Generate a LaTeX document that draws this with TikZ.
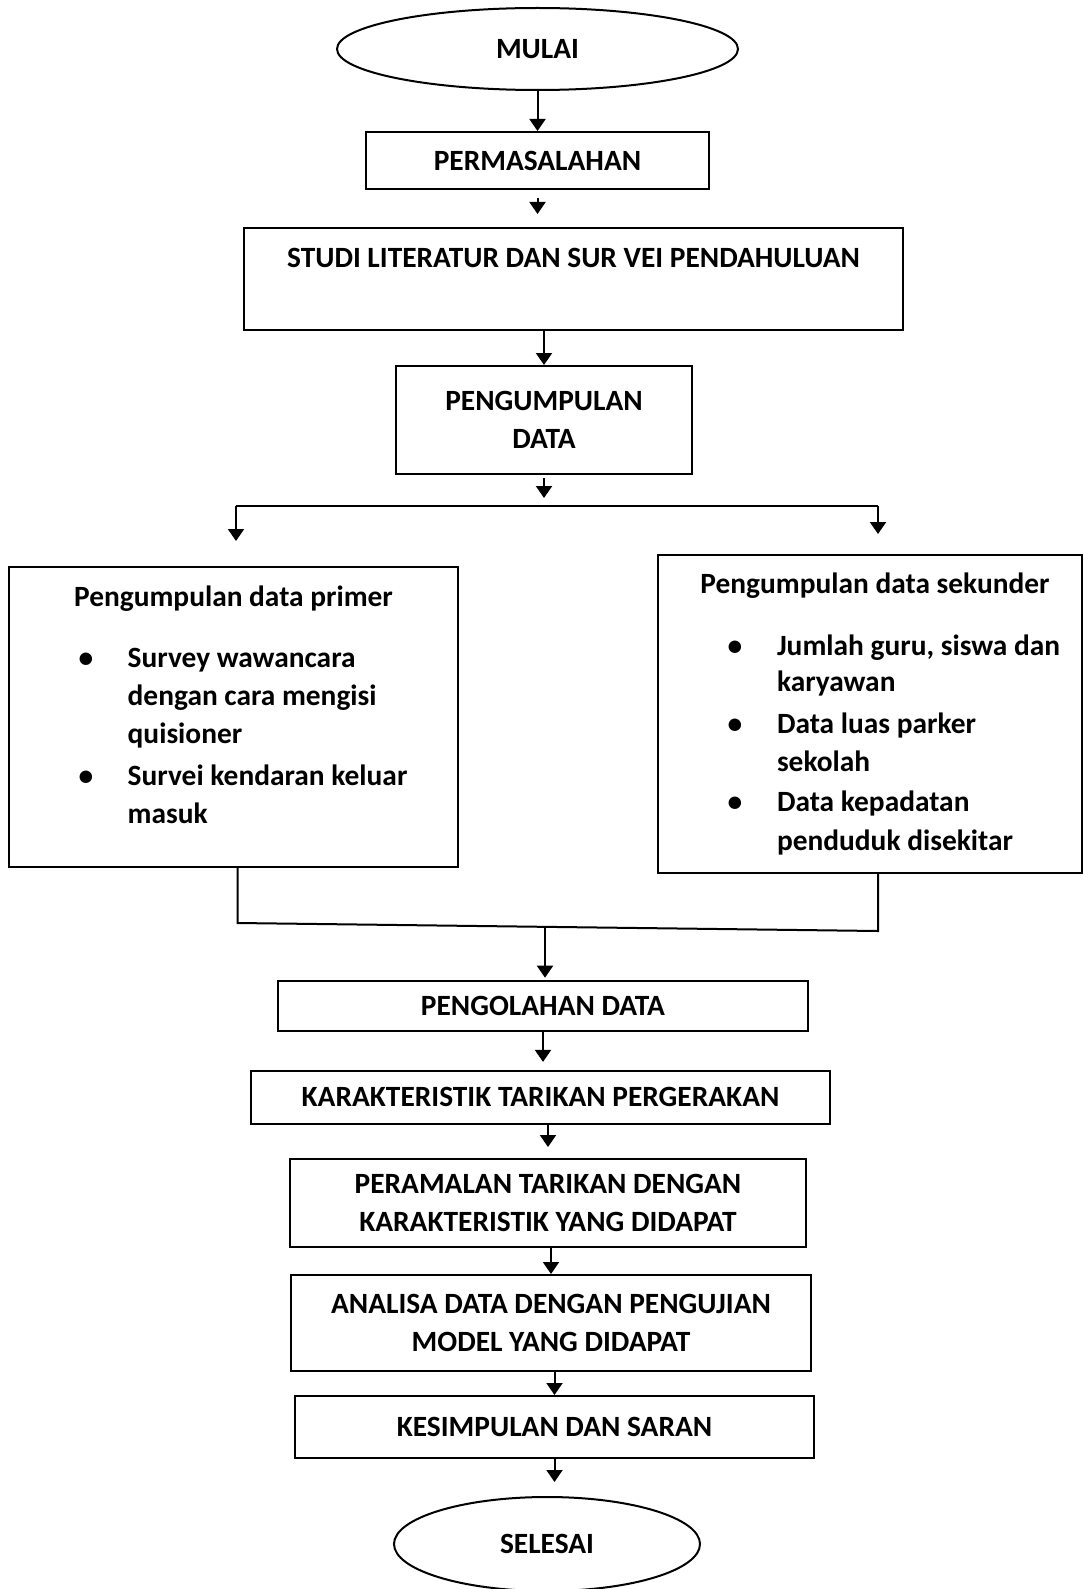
\documentclass[tikz,border=0pt]{standalone}
\usepackage{fontspec}
\setmainfont{Carlito}
\usepackage{tikz}
\usetikzlibrary{shapes.geometric}
\usetikzlibrary{arrows.meta}
\tikzset{>={Triangle[width=8pt,length=6pt]}}
\tikzset{kotak/.style={draw, line width=1pt, inner sep=0pt, align=center, font=\bfseries}}
\tikzset{oval/.style={kotak, ellipse}}
\tikzset{teks/.style={inner sep=0pt, anchor=base, font=\bfseries}}
\newcommand{\titik}{\textbullet}

\begin{document}
\begin{tikzpicture}[x=0.5pt, y=-0.5pt, line width=1pt]
\newcommand\W{0.5pt}
\fontsize{14.7}{19}\selectfont
\useasboundingbox (0,0) rectangle (1083,1589);

\node[oval, minimum width=401*\W, minimum height=82*\W] (mulai) at (537.5,49) {MULAI};
\node[kotak, minimum width=343*\W, minimum height=57*\W] (masalah) at (537.5,160.5) {PERMASALAHAN};
\node[kotak, minimum width=659*\W, minimum height=102*\W, text depth=21pt] (studi) at (573.5,279)
{STUDI LITERATUR DAN SUR VEI PENDAHULUAN};
\node[kotak, minimum width=296*\W, minimum height=108*\W] (kumpul) at (544,420) {PENGUMPULAN\\DATA};

\node[kotak, minimum width=449*\W, minimum height=300*\W] (primer) at (233.5,717) {};
\node[teks] (primerjudul) at (233.5,606) {Pengumpulan data primer};
\foreach \n/\y in {1/667, 2/785}
  \node[teks] (titikp\n) at (86,\y) {\titik};
\foreach \n/\y/\t in {1/667/Survey wawancara, 2/705/dengan cara mengisi, 3/743/quisioner,
  4/785/Survei kendaran keluar, 5/823/masuk}
  \node[teks, anchor=base west] (primer\n) at (126.7,\y) {\t};

\node[kotak, minimum width=424*\W, minimum height=318*\W] (sekunder) at (870,714) {};
\node[teks] (sekunderjudul) at (875,593) {Pengumpulan data sekunder};
\foreach \n/\y in {1/655, 2/733, 3/811.7}
  \node[teks] (titiks\n) at (735,\y) {\titik};
\foreach \n/\y/\t in {1/655/{Jumlah guru, siswa dan}, 2/691.7/karyawan, 3/733/Data luas parker,
  4/771.7/sekolah, 5/811.7/Data kepadatan, 6/850/penduduk disekitar}
  \node[teks, anchor=base west] (sekunder\n) at (776,\y) {\t};

\node[kotak, minimum width=530*\W, minimum height=50*\W] (olah) at (543,1005.7) {PENGOLAHAN DATA};
\node[kotak, minimum width=579*\W, minimum height=53*\W] (karakter) at (540.5,1097.4)
{KARAKTERISTIK TARIKAN PERGERAKAN};
\node[kotak, minimum width=516*\W, minimum height=88*\W] (ramal) at (548,1203)
{PERAMALAN TARIKAN DENGAN\\KARAKTERISTIK YANG DIDAPAT};
\node[kotak, minimum width=520*\W, minimum height=96*\W] (analisa) at (551,1323)
{ANALISA DATA DENGAN PENGUJIAN\\MODEL YANG DIDAPAT};
\node[kotak, minimum width=519*\W, minimum height=62*\W] (simpul) at (554.5,1427) {KESIMPULAN DAN SARAN};
\node[oval, minimum width=306*\W, minimum height=94*\W] (selesai) at (547,1544) {SELESAI};

\coordinate (cabang) at (544,506);
\coordinate (cabangkiri) at (236,506);
\coordinate (cabangkanan) at (878,506);
\coordinate (gabungkiri) at (237.5,923);
\coordinate (gabungkanan) at (878,931);
\coordinate (gabung) at (545,927);

\draw[->] (mulai.south) -- (masalah.north);
\draw[->, shorten <=4pt, shorten >=6.5pt] (masalah.south) -- (masalah.south |- studi.north);
\draw[->] (studi.south -| kumpul.north) -- (kumpul.north);
\draw[->, shorten <=1.5pt, shorten >=4pt] (kumpul.south) -- (kumpul.south |- cabang);
\draw (cabangkiri) -- (cabangkanan);
\draw[->, shorten >=12.5pt] (cabangkiri) -- (cabangkiri |- primer.north);
\draw[->, shorten >=10pt] (cabangkanan) -- (cabangkanan |- sekunder.north);

\draw (primer.south -| gabungkiri) -- (gabungkiri) -- (gabungkanan) -- (sekunder.south -| gabungkanan);
\draw[->, shorten >=1pt] (gabung) -- (gabung |- olah.north);

\draw[->, shorten >=4pt] (olah.south) -- (olah.south |- karakter.north);
\draw[->, shorten >=5.5pt] (ramal.north |- karakter.south) -- (ramal.north);
\draw[->] (analisa.north |- ramal.south) -- (analisa.north);
\draw[->] (simpul.north |- analisa.south) -- (simpul.north);
\draw[->, shorten >=7pt] (simpul.south) -- (simpul.south |- selesai.north);
\end{tikzpicture}
\end{document}
